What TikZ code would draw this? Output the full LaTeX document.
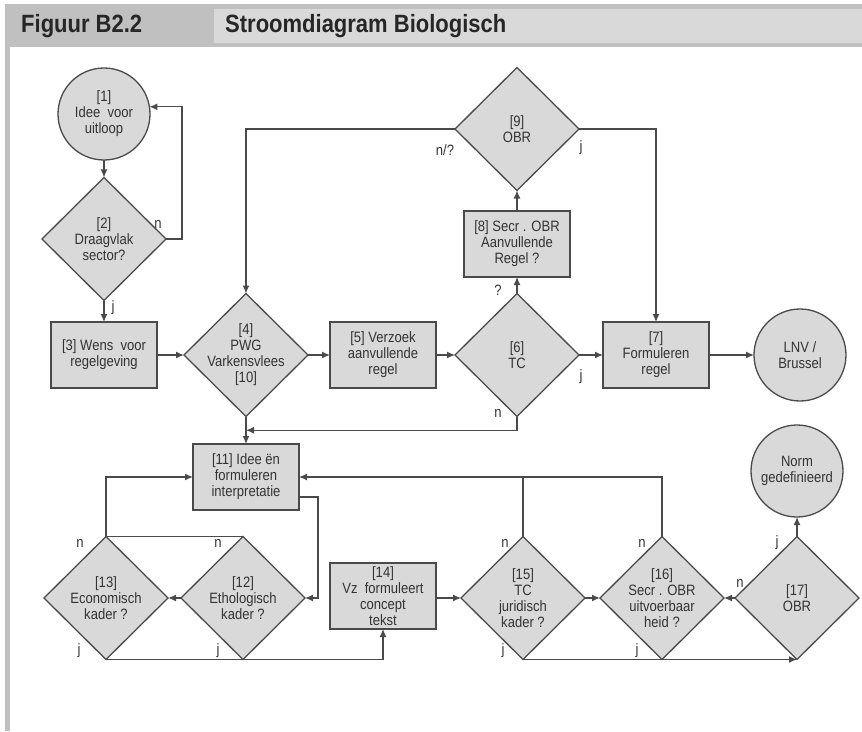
\documentclass[tikz,border=0pt]{standalone}
\usepackage{fontspec}
\usepackage{xcolor}
\usepackage{tikz}
\usetikzlibrary{calc, arrows.meta, shapes.geometric}
\newfontfamily\flowfamily{Liberation Sans}[FakeStretch=0.87]
\newfontfamily\hdrfamily{Liberation Sans}[FakeStretch=0.88]
\newcommand{\flowfont}{\flowfamily\fontsize{15}{16}\selectfont}
\newcommand{\hdrfont}{\hdrfamily\bfseries\fontsize{25}{28}\selectfont}
\definecolor{linec}{HTML}{4A4A4A}
\definecolor{boxfill}{HTML}{D9D9D9}
\definecolor{txt}{HTML}{333333}
\definecolor{hdrdark}{HTML}{C0C0C0}
\definecolor{hdrlight}{HTML}{D9D9D9}
\tikzset{
  base/.style={draw=linec, fill=boxfill, line width=1.3pt, text=txt, font=\flowfont, outer sep=0pt},
  proc/.style={base, rectangle, minimum width=106pt, minimum height=66pt, align=center, inner sep=1pt},
  term/.style={base, circle, minimum size=92pt, align=center, inner sep=0pt},
  dec/.style={base, diamond, minimum width=124pt, minimum height=123pt, inner sep=0pt, label={[dectxt]center:{#1}}},
  dectxt/.style={align=center, font=\flowfont, text=txt, inner sep=0pt},
  flow/.style={draw=linec, line width=1.3pt, -{Latex[length=8pt,width=7pt]}},
  conn/.style={draw=linec, line width=1.3pt},
  yn/.style={font=\flowfont, text=txt, inner sep=0pt},
  hdr/.style={font=\hdrfont, text=black!85, inner sep=0pt, anchor=west}
}
\begin{document}
\begin{tikzpicture}[x=1pt, y=-1pt]
        \useasboundingbox (0,0) rectangle (862,731);
        \fill[hdrdark] (5,4) rectangle (862,47);
        \fill[hdrlight] (214,9) rectangle (862,43);
        \fill[hdrdark] (5,47) rectangle (10,731);
        \node[hdr] (fig) at (21,26) {Figuur B2.2};
        \node[hdr] (title) at (225,26) {Stroomdiagram Biologisch};

        \node[term] (n1) at (104,114) {[1]\\Idee\ \ voor\\uitloop};
        \node[dec={[2]\\Draagvlak\\sector?}] (d2) at (104,239) {};
        \node[proc] (b3) at (104,355) {[3] Wens\ \ voor\\regelgeving};
        \node[dec={[4]\\PWG\\Varkensvlees\\{}[10]}] (d4) at (246,355) {};
        \node[proc] (b5) at (383,355) {[5] Verzoek\\aanvullende\\regel};
        \node[dec={[6]\\TC}] (d6) at (517,355) {};
        \node[proc] (b7) at (656,355) {[7]\\Formuleren\\regel};
        \node[term] (lnv) at (800,355) {LNV /\\Brussel};
        \node[proc] (b8) at (517,244) {[8] Secr . OBR\\Aanvullende\\Regel ?};
        \node[dec={[9]\\OBR}] (d9) at (517,129) {};

        \node[proc] (b11) at (246,477) {[11] Idee ën\\formuleren\\interpretatie};
        \node[dec={[12]\\Ethologisch\\kader ?}] (d12) at (243,598) {};
        \node[dec={[13]\\Economisch\\kader ?}] (d13) at (106,598) {};
        \node[proc] (b14) at (383,596) {[14]\\Vz\ \ formuleert\\concept\\tekst};
        \node[dec={[15]\\TC\\juridisch\\kader ?}] (d15) at (523,598) {};
        \node[dec={[16]\\Secr . OBR\\uitvoerbaar\\heid ?}] (d16) at (662,598) {};
        \node[dec={[17]\\OBR}] (d17) at (797,598) {};
        \node[term] (norm) at (797,471) {Norm\\gedefinieerd};

        \draw[flow] (n1) -- (d2);
        \draw[flow] (d2.east) -- ++(16,0) |- (n1.9);
        \draw[flow] (d2) -- (b3);
        \draw[flow] (b3) -- (d4);
        \draw[flow] (d4) -- (b5);
        \draw[flow] (b5) -- (d6);
        \draw[flow] (d6) -- (b7);
        \draw[flow] (b7) -- (lnv);
        \draw[flow] (d6) -- (b8);
        \draw[flow] (b8) -- (d9);
        \draw[flow] (d9.west) -| (d4.north);
        \draw[flow] (d9.east) -| (b7.north);
        \draw[flow] (d4) -- (b11);
        \draw[flow] (d6.south) |- ($(d4.south)!0.5!(b11.north)$);

        \draw[flow] ([yshift=-20pt]b11.east) -- ++(19,0) |- (d12.east);
        \draw[flow] (d12) -- (d13);
        \draw[flow] (d13.north) |- (b11.west);
        \draw[conn] (d12.north) -- (d13.north |- d12.north);
        \draw[flow] (d13.south) -- (d13.south -| b14) -- (b14.south);
        \draw[flow] (b14.east |- d15.west) -- (d15.west);
        \draw[flow] (d15) -- (d16);
        \draw[flow] (d17) -- (d16);
        \draw[flow] (d17) -- (norm);
        \draw[flow] (d15.south) -- (d17.south);
        \draw[flow] (d16.north) |- (b11.east);
        \draw[conn] (d15.north) -- (d15.north |- b11.east);

        \node[yn] (l2n) at (158,224) {n};
        \node[yn] (l2j) at (113,308) {j};
        \node[yn] (l9n) at (445,150) {n/?};
        \node[yn] (l9j) at (581,148) {j};
        \node[yn] (l6q) at (498,290) {?};
        \node[yn] (l6j) at (581,377) {j};
        \node[yn] (l6n) at (498,413) {n};
        \node[yn] (l13n) at (80,543) {n};
        \node[yn] (l12n) at (218,543) {n};
        \node[yn] (l13j) at (79,651) {j};
        \node[yn] (l12j) at (218,651) {j};
        \node[yn] (l15n) at (505,543) {n};
        \node[yn] (l16n) at (642,543) {n};
        \node[yn] (l17n) at (740,583) {n};
        \node[yn] (l17j) at (777,543) {j};
        \node[yn] (l15j) at (503,651) {j};
        \node[yn] (l16j) at (637,651) {j};
\end{tikzpicture}
\end{document}
